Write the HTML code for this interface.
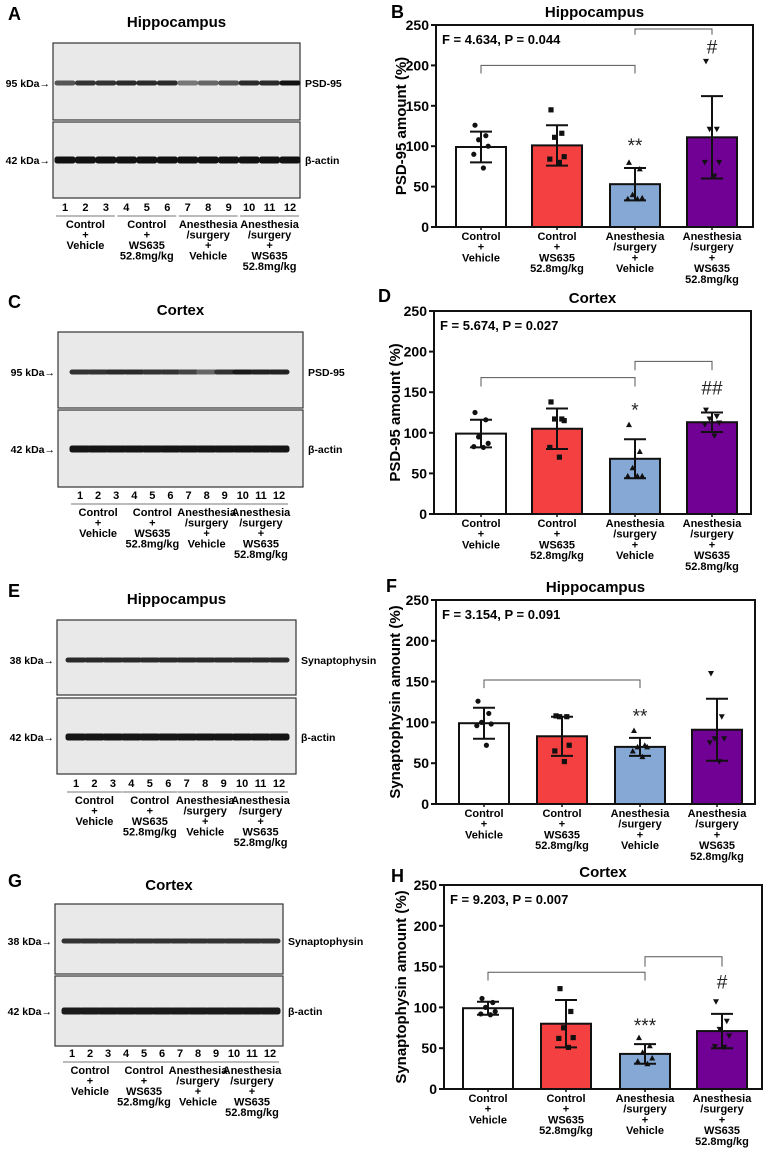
<!DOCTYPE html>
<html><head><meta charset="utf-8">
<style>
html,body{margin:0;padding:0;background:#fff;}
svg{display:block;font-family:"Liberation Sans",Arial,sans-serif;}
</style></head>
<body>
<svg id="fig" width="768" height="1150" viewBox="0 0 768 1150" xmlns="http://www.w3.org/2000/svg"></svg>
<script>
// ---- chart data ----
const categories = [["Control","+","Vehicle"],["Control","+","WS635","52.8mg/kg"],["Anesthesia","/surgery","+","Vehicle"],["Anesthesia","/surgery","+","WS635","52.8mg/kg"]];
const yTicks = [0,50,100,150,200,250];
const bMeans = [99,101,53,111];
const bSD = [19,25,20,51];
const bPoints = [[126,113,108,100,90,73],[145,116,111,87,84,80],[80,72,40,36,35,35],[205,121,121,80,80,63]];
const dMeans = [99,105,68,113];
const dSD = [17,25,24,12];
const dPoints = [[125,116,95,87,83,82],[138,117,117,115,82,70],[110,77,57,47,47,47],[128,120,117,112,110,96]];
const fMeans = [99,83,70,91];
const fSD = [19,24,11,38];
const fPoints = [[126,111,100,98,96,72],[108,107,107,72,65,52],[90,72,70,70,65,58],[160,107,80,80,75,52]];
const hMeans = [99,80,43,71];
const hSD = [8,29,12,21];
const hPoints = [[111,106,100,95,92,91],[123,95,75,63,62,51],[63,53,45,38,34,31],[107,83,73,65,52,51]];
const colors = ["#ffffff","#f44040","#86a8d4","#710094"];

const NS="http://www.w3.org/2000/svg";
const svg=document.getElementById('fig');
function mk(tag,attrs,parent,txt){const e=document.createElementNS(NS,tag);for(const k in attrs)e.setAttribute(k,attrs[k]);if(txt!==undefined)e.textContent=txt;(parent||svg).appendChild(e);return e;}

function chart(o){
  const g=mk('g',{});
  
  
  const y=v=>o.y0-(v/250)*(o.y0-o.top);
  const l=mk('text',{x:o.lx,y:o.ly,'font-size':18,'font-weight':'bold'},g,o.letter);
  
  const t=mk('text',{x:(o.left+o.right)/2,y:o.top-8,'font-size':15,'font-weight':'bold','text-anchor':'middle'},g,o.title);
  
  o.means.forEach((m,i)=>{
    const r=mk('rect',{x:o.cx[i]-25,y:y(m),width:50,height:y(0)-y(m),fill:colors[i],stroke:'#111','stroke-width':2},g);
    
  });
  o.points.forEach((arr,i)=>{
    arr.forEach((v,j)=>{
      const px=o.cx[i]+[-5,4,-2,6,-6,2][j%6]*1.2,py=y(v);let p;
      if(i===0)p=mk('circle',{cx:px,cy:py,r:2.6,fill:'#111'},g);
      else if(i===1)p=mk('rect',{x:px-2.6,y:py-2.6,width:5.2,height:5.2,fill:'#111'},g);
      else if(i===2)p=mk('polygon',{points:`${px},${py-3} ${px-3},${py+2.5} ${px+3},${py+2.5}`,fill:'#111'},g);
      else p=mk('polygon',{points:`${px},${py+3} ${px-3},${py-2.5} ${px+3},${py-2.5}`,fill:'#111'},g);
      
    });
  });
  o.means.forEach((m,i)=>{
    const e=mk('path',{d:`M${o.cx[i]},${y(m-o.sd[i])}V${y(m+o.sd[i])}M${o.cx[i]-11},${y(m+o.sd[i])}h22M${o.cx[i]-11},${y(m-o.sd[i])}h22`,stroke:'#111','stroke-width':2,fill:'none'},g);
    
  });
  const bx=mk('rect',{x:o.left,y:o.top,width:o.right-o.left,height:o.y0-o.top,fill:'none',stroke:'#111','stroke-width':2},g);
  
  yTicks.forEach(v=>{
    mk('line',{x1:o.left-5,x2:o.left,y1:y(v),y2:y(v),stroke:'#111','stroke-width':2},g);
    const tl=mk('text',{x:o.left-7,y:y(v)+5,'font-size':14,'font-weight':'bold','text-anchor':'end'},g,v);
    
  });
  const yt=mk('text',{x:0,y:0,'font-size':15,'font-weight':'bold','text-anchor':'middle',transform:`translate(${o.ytx},${(o.top+o.y0)/2}) rotate(-90)`},g,o.ytitle);
  
  categories.forEach((lines,i)=>{
    mk('line',{x1:o.cx[i],x2:o.cx[i],y1:o.y0,y2:o.y0+3,stroke:'#111','stroke-width':1.5},g);
    const ct=mk('text',{'font-size':11,'font-weight':'bold','text-anchor':'middle'},g);
    
    lines.forEach((s,k)=>mk('tspan',{x:o.cx[i],y:o.y0+13+k*10.7},ct,s));
  });
  const ft=mk('text',{x:o.left+6,y:o.top+19,'font-size':13,'font-weight':'bold'},g,o.ftext);
  
  o.brackets.forEach(b=>{
    const br=mk('path',{d:`M${o.cx[b[0]]},${y(b[3])}V${y(b[2])}H${o.cx[b[1]]}V${y(b[3])}`,stroke:'#555','stroke-width':1,fill:'none'},g);
    
  });
  o.marks.forEach(m=>{
    const s=mk('text',{x:o.cx[m[0]],y:y(m[1]),'font-size':19,'text-anchor':'middle',fill:'#222'},g,m[2]);
    
  });
}

chart({name:'chart-b',letter:'B',lx:391,ly:18,title:'Hippocampus',left:436,right:753,top:25,y0:227,cx:[481,557,635,712],ytx:406,ytitle:'PSD-95 amount (%)',means:bMeans,sd:bSD,points:bPoints,ftext:'F = 4.634, P = 0.044',brackets:[[0,2,200,190],[2,3,245,238]],marks:[[2,93,'**'],[3,215,'#']]});
chart({name:'chart-d',letter:'D',lx:378,ly:302,title:'Cortex',left:434,right:751,top:311,y0:514,cx:[481,557,635,712],ytx:400,ytitle:'PSD-95 amount (%)',means:dMeans,sd:dSD,points:dPoints,ftext:'F = 5.674, P = 0.027',brackets:[[0,2,168,157],[2,3,188,177]],marks:[[2,120,'*'],[3,147,'##']]});
chart({name:'chart-f',letter:'F',lx:386,ly:592,title:'Hippocampus',left:436,right:755,top:600,y0:804,cx:[484,562,640,717],ytx:400,ytitle:'Synaptophysin amount (%)',means:fMeans,sd:fSD,points:fPoints,ftext:'F = 3.154, P = 0.091',brackets:[[0,2,152,142]],marks:[[2,100,'**']]});
chart({name:'chart-h',letter:'H',lx:391,ly:882,title:'Cortex',left:444,right:762,top:885,y0:1089,cx:[488,566,645,722],ytx:406,ytitle:'Synaptophysin amount (%)',means:hMeans,sd:hSD,points:hPoints,ftext:'F = 9.203, P = 0.007',brackets:[[0,2,143,133],[2,3,162,150]],marks:[[2,70,'***'],[3,123,'#']]});

// ---- western blots ----
const blotGroups = [["Control","+","Vehicle"],["Control","+","WS635","52.8mg/kg"],["Anesthesia","/surgery","+","Vehicle"],["Anesthesia","/surgery","+","WS635","52.8mg/kg"]];
function blot(o){
  const g=mk('g',{});
  
  
  const l=mk('text',{x:o.lx,y:o.ly,'font-size':18,'font-weight':'bold'},g,o.letter);
  
  const t=mk('text',{x:(o.left+o.right)/2,y:o.ty,'font-size':15,'font-weight':'bold','text-anchor':'middle'},g,o.title);
  
  const lane=k=>o.left+o.l0+(k)*(o.right-o.l1-o.left-o.l0)/11;
  [[o.t1,o.b1,o.band1,o.kda1,o.prot1,5],[o.t2,o.b2,o.band2,'42 kDa',"β-actin",7]].forEach((p,pi)=>{
    const r=mk('rect',{x:o.left,y:p[0],width:o.right-o.left,height:p[1]-p[0],fill:'#e9e9e9',stroke:'#333','stroke-width':1.2},g);
    
    for(let k=0;k<12;k++){
      const b=mk('rect',{x:lane(k)-10.5,y:p[2]-p[5]/2,width:21,height:p[5],rx:2.5,fill:o.dark[pi][k]},g);
      
    }
    const kl=mk('text',{x:o.left-3,y:p[2]+4,'font-size':10.5,'font-weight':'bold','text-anchor':'end'},g,p[3]+'→');
    
    const pl=mk('text',{x:o.right+5,y:p[2]+4,'font-size':10.5,'font-weight':'bold'},g,p[4]);
    
  });
  for(let k=0;k<12;k++){
    const n=mk('text',{x:lane(k),y:o.numY,'font-size':11,'font-weight':'bold','text-anchor':'middle'},g,k+1);
    
  }
  blotGroups.forEach((lines,i)=>{
    const x1=lane(i*3)-9,x2=lane(i*3+2)+9;
    mk('line',{x1:x1,x2:x2,y1:o.numY+5,y2:o.numY+5,stroke:'#777','stroke-width':1},g);
    const gt=mk('text',{'font-size':11,'font-weight':'bold','text-anchor':'middle'},g);
    
    lines.forEach((s,k)=>mk('tspan',{x:(x1+x2)/2,y:o.numY+17+k*10.5},gt,s));
  });
}
const dkA=[['#555','#333','#333','#2a2a2a','#2a2a2a','#2a2a2a','#777','#666','#555','#2a2a2a','#2a2a2a','#111'],Array(12).fill('#111')];
const dkC=[['#333','#333','#2a2a2a','#2a2a2a','#333','#333','#444','#666','#333','#1a1a1a','#222','#222'],Array(12).fill('#151515')];
const dkE=[Array(12).fill('#2a2a2a'),Array(12).fill('#151515')];
const dkG=[Array(12).fill('#333'),Array(12).fill('#1a1a1a')];
blot({name:'blot-a',letter:'A',lx:8,ly:20,title:'Hippocampus',ty:27,left:53,right:300,t1:43,b1:120,t2:122,b2:198,band1:83,band2:160,kda1:'95 kDa',prot1:'PSD-95',l0:12,l1:10,numY:211,dark:dkA});
blot({name:'blot-c',letter:'C',lx:8,ly:308,title:'Cortex',ty:315,left:58,right:303,t1:332,b1:408,t2:410,b2:487,band1:372,band2:449,kda1:'95 kDa',prot1:'PSD-95',l0:22,l1:24,numY:499,dark:dkC});
blot({name:'blot-e',letter:'E',lx:8,ly:597,title:'Hippocampus',ty:604,left:57,right:296,t1:620,b1:695,t2:698,b2:774,band1:660,band2:737,kda1:'38 kDa',prot1:'Synaptophysin',l0:19,l1:17,numY:787,dark:dkE});
blot({name:'blot-g',letter:'G',lx:8,ly:887,title:'Cortex',ty:890,left:55,right:283,t1:904,b1:974,t2:976,b2:1046,band1:941,band2:1011,kda1:'38 kDa',prot1:'Synaptophysin',l0:17,l1:13,numY:1057,dark:dkG});
</script>
</body></html>
